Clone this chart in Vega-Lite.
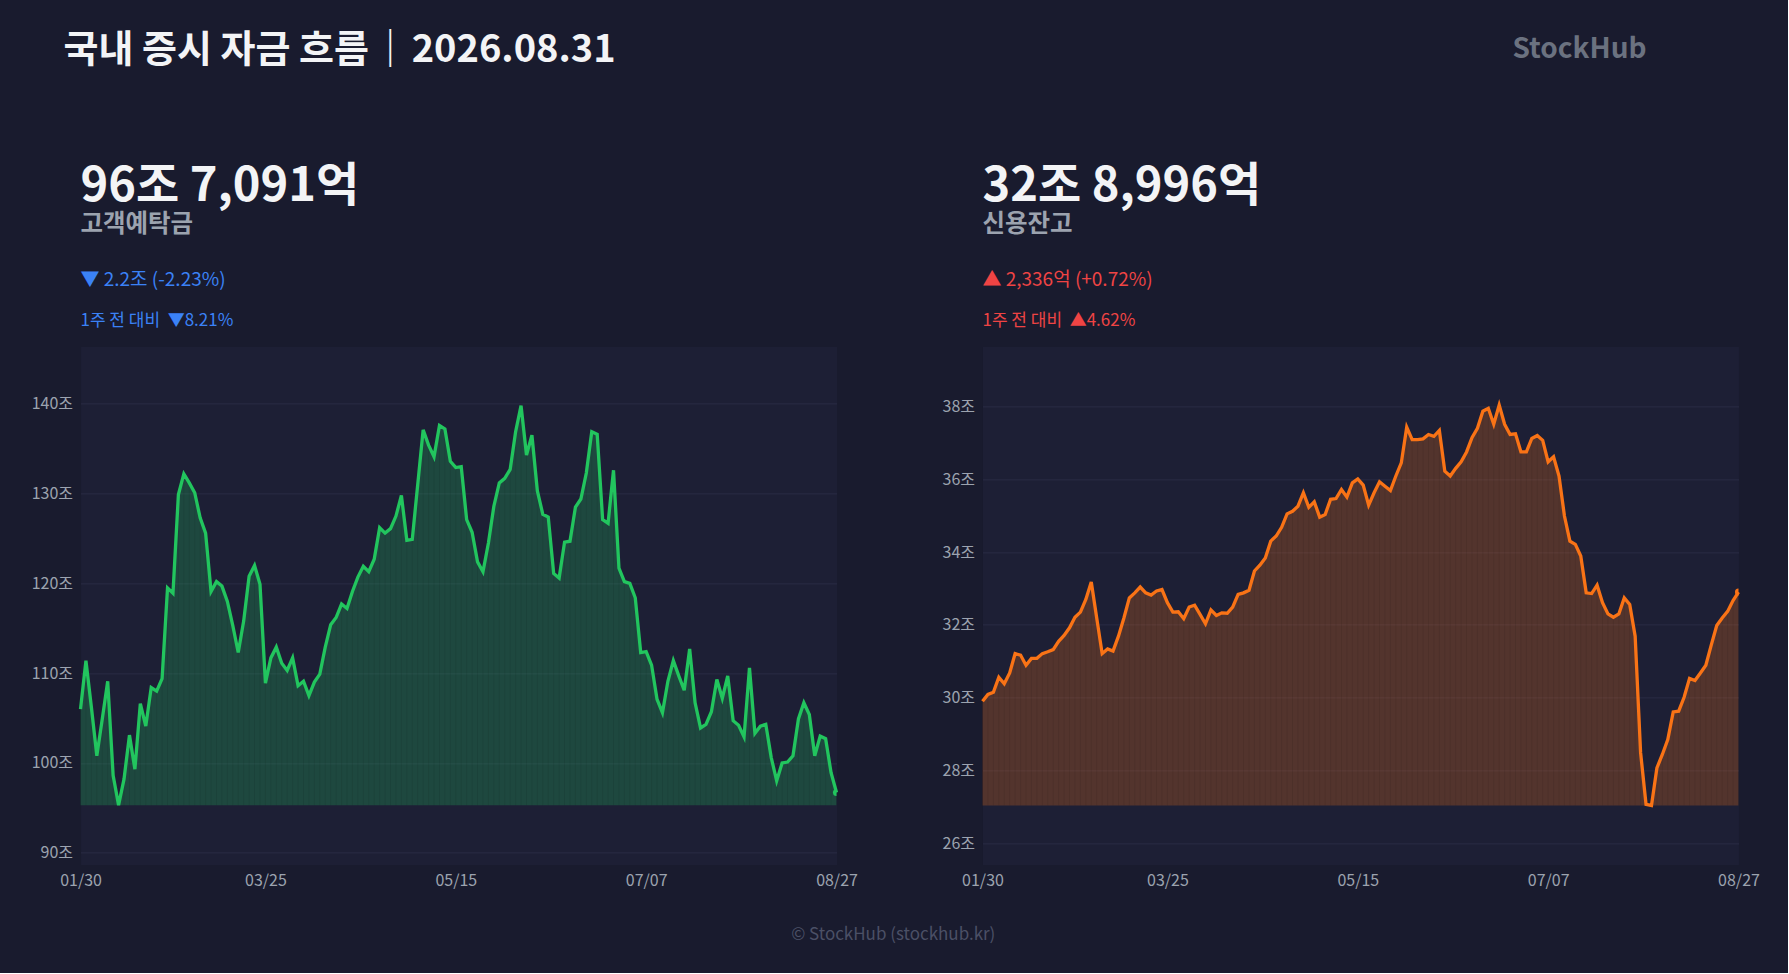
{
  "$schema": "https://vega.github.io/schema/vega-lite/v6.json",
  "background": "#191b2e",
  "padding": {"left": 30.5, "top": 32.4, "right": 27.5, "bottom": 29.5},
  "data": {
    "values": [
      {"d": "01/30", "deposit": 106.0, "credit": 29.90},
      {"d": "02/02", "deposit": 111.4, "credit": 30.09},
      {"d": "02/03", "deposit": 106.2, "credit": 30.15},
      {"d": "02/04", "deposit": 100.8, "credit": 30.56},
      {"d": "02/05", "deposit": 104.9, "credit": 30.38},
      {"d": "02/06", "deposit": 109.1, "credit": 30.68},
      {"d": "02/09", "deposit": 98.6, "credit": 31.21},
      {"d": "02/10", "deposit": 95.3, "credit": 31.17},
      {"d": "02/11", "deposit": 98.2, "credit": 30.89},
      {"d": "02/12", "deposit": 103.1, "credit": 31.08},
      {"d": "02/13", "deposit": 99.3, "credit": 31.08},
      {"d": "02/19", "deposit": 106.6, "credit": 31.21},
      {"d": "02/20", "deposit": 104.1, "credit": 31.26},
      {"d": "02/23", "deposit": 108.4, "credit": 31.32},
      {"d": "02/24", "deposit": 108.0, "credit": 31.55},
      {"d": "02/25", "deposit": 109.4, "credit": 31.71},
      {"d": "02/26", "deposit": 119.5, "credit": 31.92},
      {"d": "02/27", "deposit": 118.9, "credit": 32.21},
      {"d": "03/03", "deposit": 129.9, "credit": 32.35},
      {"d": "03/04", "deposit": 132.2, "credit": 32.70},
      {"d": "03/05", "deposit": 131.2, "credit": 33.18},
      {"d": "03/06", "deposit": 130.1, "credit": 32.19},
      {"d": "03/09", "deposit": 127.3, "credit": 31.21},
      {"d": "03/10", "deposit": 125.6, "credit": 31.34},
      {"d": "03/11", "deposit": 119.1, "credit": 31.28},
      {"d": "03/12", "deposit": 120.2, "credit": 31.69},
      {"d": "03/13", "deposit": 119.7, "credit": 32.19},
      {"d": "03/16", "deposit": 118.0, "credit": 32.74},
      {"d": "03/17", "deposit": 115.3, "credit": 32.88},
      {"d": "03/18", "deposit": 112.3, "credit": 33.04},
      {"d": "03/19", "deposit": 115.8, "credit": 32.88},
      {"d": "03/20", "deposit": 120.8, "credit": 32.82},
      {"d": "03/23", "deposit": 122.0, "credit": 32.93},
      {"d": "03/24", "deposit": 119.9, "credit": 32.97},
      {"d": "03/25", "deposit": 108.9, "credit": 32.61},
      {"d": "03/26", "deposit": 111.7, "credit": 32.35},
      {"d": "03/27", "deposit": 112.9, "credit": 32.36},
      {"d": "03/30", "deposit": 111.1, "credit": 32.17},
      {"d": "03/31", "deposit": 110.3, "credit": 32.49},
      {"d": "04/01", "deposit": 111.7, "credit": 32.54},
      {"d": "04/02", "deposit": 108.6, "credit": 32.29},
      {"d": "04/03", "deposit": 109.1, "credit": 32.03},
      {"d": "04/06", "deposit": 107.5, "credit": 32.41},
      {"d": "04/07", "deposit": 109.0, "credit": 32.26},
      {"d": "04/08", "deposit": 109.9, "credit": 32.33},
      {"d": "04/09", "deposit": 112.9, "credit": 32.32},
      {"d": "04/10", "deposit": 115.4, "credit": 32.49},
      {"d": "04/13", "deposit": 116.2, "credit": 32.84},
      {"d": "04/14", "deposit": 117.7, "credit": 32.88},
      {"d": "04/15", "deposit": 117.2, "credit": 32.95},
      {"d": "04/16", "deposit": 119.1, "credit": 33.48},
      {"d": "04/17", "deposit": 120.7, "credit": 33.64},
      {"d": "04/20", "deposit": 121.9, "credit": 33.84},
      {"d": "04/21", "deposit": 121.3, "credit": 34.30},
      {"d": "04/22", "deposit": 122.7, "credit": 34.44},
      {"d": "04/23", "deposit": 126.2, "credit": 34.68},
      {"d": "04/24", "deposit": 125.6, "credit": 35.05},
      {"d": "04/27", "deposit": 126.1, "credit": 35.12},
      {"d": "04/28", "deposit": 127.5, "credit": 35.26},
      {"d": "04/29", "deposit": 129.8, "credit": 35.63},
      {"d": "04/30", "deposit": 124.8, "credit": 35.23},
      {"d": "05/04", "deposit": 124.9, "credit": 35.38},
      {"d": "05/06", "deposit": 131.0, "credit": 34.96},
      {"d": "05/07", "deposit": 137.1, "credit": 35.03},
      {"d": "05/08", "deposit": 135.4, "credit": 35.45},
      {"d": "05/11", "deposit": 134.1, "credit": 35.47},
      {"d": "05/12", "deposit": 137.6, "credit": 35.72},
      {"d": "05/13", "deposit": 137.2, "credit": 35.51},
      {"d": "05/14", "deposit": 133.6, "credit": 35.90},
      {"d": "05/15", "deposit": 132.9, "credit": 36.01},
      {"d": "05/18", "deposit": 133.0, "credit": 35.84},
      {"d": "05/19", "deposit": 127.1, "credit": 35.29},
      {"d": "05/20", "deposit": 125.7, "credit": 35.63},
      {"d": "05/21", "deposit": 122.4, "credit": 35.93},
      {"d": "05/22", "deposit": 121.3, "credit": 35.81},
      {"d": "05/26", "deposit": 124.5, "credit": 35.69},
      {"d": "05/27", "deposit": 128.6, "credit": 36.09},
      {"d": "05/28", "deposit": 131.2, "credit": 36.45},
      {"d": "05/29", "deposit": 131.7, "credit": 37.43},
      {"d": "06/01", "deposit": 132.7, "credit": 37.09},
      {"d": "06/02", "deposit": 136.9, "credit": 37.09},
      {"d": "06/04", "deposit": 139.8, "credit": 37.11},
      {"d": "06/05", "deposit": 134.3, "credit": 37.23},
      {"d": "06/08", "deposit": 136.5, "credit": 37.18},
      {"d": "06/09", "deposit": 130.3, "credit": 37.34},
      {"d": "06/10", "deposit": 127.7, "credit": 36.22},
      {"d": "06/11", "deposit": 127.4, "credit": 36.09},
      {"d": "06/12", "deposit": 121.1, "credit": 36.30},
      {"d": "06/15", "deposit": 120.6, "credit": 36.48},
      {"d": "06/16", "deposit": 124.6, "credit": 36.75},
      {"d": "06/17", "deposit": 124.7, "credit": 37.14},
      {"d": "06/18", "deposit": 128.5, "credit": 37.40},
      {"d": "06/19", "deposit": 129.4, "credit": 37.87},
      {"d": "06/22", "deposit": 132.3, "credit": 37.95},
      {"d": "06/23", "deposit": 136.9, "credit": 37.51},
      {"d": "06/24", "deposit": 136.6, "credit": 38.04},
      {"d": "06/25", "deposit": 127.1, "credit": 37.51},
      {"d": "06/26", "deposit": 126.7, "credit": 37.23},
      {"d": "06/29", "deposit": 132.6, "credit": 37.25},
      {"d": "06/30", "deposit": 121.7, "credit": 36.75},
      {"d": "07/01", "deposit": 120.2, "credit": 36.75},
      {"d": "07/02", "deposit": 120.0, "credit": 37.12},
      {"d": "07/03", "deposit": 118.4, "credit": 37.20},
      {"d": "07/06", "deposit": 112.3, "credit": 37.07},
      {"d": "07/07", "deposit": 112.4, "credit": 36.48},
      {"d": "07/08", "deposit": 110.9, "credit": 36.62},
      {"d": "07/09", "deposit": 107.1, "credit": 36.09},
      {"d": "07/10", "deposit": 105.6, "credit": 34.99},
      {"d": "07/13", "deposit": 109.1, "credit": 34.30},
      {"d": "07/14", "deposit": 111.4, "credit": 34.21},
      {"d": "07/15", "deposit": 109.7, "credit": 33.89},
      {"d": "07/16", "deposit": 108.1, "credit": 32.88},
      {"d": "07/20", "deposit": 112.7, "credit": 32.86},
      {"d": "07/21", "deposit": 106.7, "credit": 33.09},
      {"d": "07/22", "deposit": 103.9, "credit": 32.61},
      {"d": "07/23", "deposit": 104.3, "credit": 32.30},
      {"d": "07/24", "deposit": 105.7, "credit": 32.21},
      {"d": "07/27", "deposit": 109.3, "credit": 32.30},
      {"d": "07/28", "deposit": 107.2, "credit": 32.74},
      {"d": "07/29", "deposit": 109.7, "credit": 32.56},
      {"d": "07/30", "deposit": 104.7, "credit": 31.69},
      {"d": "07/31", "deposit": 104.2, "credit": 28.49},
      {"d": "08/03", "deposit": 102.9, "credit": 27.07},
      {"d": "08/04", "deposit": 110.6, "credit": 27.04},
      {"d": "08/05", "deposit": 103.3, "credit": 28.07},
      {"d": "08/06", "deposit": 104.1, "credit": 28.44},
      {"d": "08/07", "deposit": 104.3, "credit": 28.85},
      {"d": "08/10", "deposit": 100.6, "credit": 29.61},
      {"d": "08/11", "deposit": 98.0, "credit": 29.63},
      {"d": "08/12", "deposit": 100.0, "credit": 30.01},
      {"d": "08/13", "deposit": 100.1, "credit": 30.53},
      {"d": "08/14", "deposit": 100.8, "credit": 30.47},
      {"d": "08/18", "deposit": 104.9, "credit": 30.68},
      {"d": "08/19", "deposit": 106.7, "credit": 30.89},
      {"d": "08/20", "deposit": 105.4, "credit": 31.45},
      {"d": "08/21", "deposit": 100.8, "credit": 31.98},
      {"d": "08/24", "deposit": 103.0, "credit": 32.19},
      {"d": "08/25", "deposit": 102.7, "credit": 32.37},
      {"d": "08/26", "deposit": 98.91, "credit": 32.67},
      {"d": "08/27", "deposit": 96.71, "credit": 32.90}
    ]
  },
  "title": {
    "text": "© StockHub (stockhub.kr)",
    "orient": "bottom",
    "anchor": "middle",
    "frame": "bounds",
    "fontSize": 17,
    "fontWeight": "normal",
    "color": "#4b5066",
    "offset": 38.5,
    "dx": -2
  },
  "spacing": 83,
  "hconcat": [
    {
      "title": {
        "text": "국내 증시 자금 흐름\u200a｜\u200a2026.08.31",
        "fontSize": 38,
        "fontWeight": "bold",
        "color": "#f3f4f6",
        "dx": -17,
        "offset": 92.5
      },
      "bounds": "flush",
      "vconcat": [
        {
          "title": {
            "text": "96조 7,091억",
            "subtitle": "고객예탁금",
            "fontSize": 47,
            "fontWeight": "bold",
            "color": "#f3f4f6",
            "subtitleFontSize": 24.5,
            "subtitleFontWeight": "bold",
            "subtitleColor": "#9ca3af",
            "subtitlePadding": 2,
            "offset": 33
          },
          "bounds": "flush",
          "vconcat": [
            {
              "width": 756,
              "height": 518,
              "title": {
                "text": "▼ 2.2조 (-2.23%)",
                "subtitle": "1주 전 대비\u00a0 ▼8.21%",
                "fontSize": 19,
                "fontWeight": "normal",
                "color": "#3b82f6",
                "subtitleFontSize": 17,
                "subtitleFontWeight": "normal",
                "subtitleColor": "#3b82f6",
                "subtitlePadding": 23.5,
                "offset": 17
              },
              "encoding": {
                "x": {
                  "field": "d",
                  "type": "ordinal",
                  "scale": {"type": "point", "padding": 0},
                  "axis": {"values": ["01/30", "03/25", "05/15", "07/07", "08/27"], "title": null}
                }
              },
              "layer": [
                {
                  "transform": [{"joinaggregate": [{"op": "min", "field": "deposit", "as": "lo"}]}],
                  "mark": {"type": "area", "color": "#22c55e", "opacity": 0.25},
                  "encoding": {
                    "y": {
                      "field": "deposit",
                      "type": "quantitative",
                      "scale": {"domain": [88.7, 146.4], "nice": false, "zero": false},
                      "axis": {"values": [90, 100, 110, 120, 130, 140], "labelExpr": "datum.value + '조'", "title": null}
                    },
                    "y2": {"field": "lo"}
                  }
                },
                {
                  "transform": [{"joinaggregate": [{"op": "min", "field": "deposit", "as": "lo"}]}],
                  "mark": {"type": "rule", "color": "#000000", "opacity": 0.08, "strokeWidth": 1},
                  "encoding": {
                    "y": {"field": "deposit", "type": "quantitative"},
                    "y2": {"field": "lo"}
                  }
                },
                {
                  "mark": {"type": "line", "color": "#22c55e", "strokeWidth": 3.3},
                  "encoding": {"y": {"field": "deposit", "type": "quantitative"}}
                },
                {
                  "transform": [{"filter": "datum.d == '08/27'"}],
                  "mark": {"type": "circle", "color": "#22c55e", "size": 50, "opacity": 1, "clip": true},
                  "encoding": {"y": {"field": "deposit", "type": "quantitative"}}
                }
              ]
            }
          ]
        }
      ]
    },
    {
      "title": {
        "text": ["", "StockHub"],
        "lineHeight": 3.4,
        "fontSize": 28,
        "fontWeight": "bold",
        "color": "#6b7280",
        "align": "right",
        "dx": 664,
        "offset": 99.1
      },
      "bounds": "flush",
      "vconcat": [
        {
          "title": {
            "text": "32조 8,996억",
            "subtitle": "신용잔고",
            "fontSize": 47,
            "fontWeight": "bold",
            "color": "#f3f4f6",
            "subtitleFontSize": 24.5,
            "subtitleFontWeight": "bold",
            "subtitleColor": "#9ca3af",
            "subtitlePadding": 2,
            "offset": 33
          },
          "bounds": "flush",
          "vconcat": [
            {
              "width": 756,
              "height": 518,
              "title": {
                "text": "▲ 2,336억 (+0.72%)",
                "subtitle": "1주 전 대비\u00a0 ▲4.62%",
                "fontSize": 19,
                "fontWeight": "normal",
                "color": "#ef4444",
                "subtitleFontSize": 17,
                "subtitleFontWeight": "normal",
                "subtitleColor": "#ef4444",
                "subtitlePadding": 23.5,
                "offset": 17
              },
              "encoding": {
                "x": {
                  "field": "d",
                  "type": "ordinal",
                  "scale": {"type": "point", "padding": 0},
                  "axis": {"values": ["01/30", "03/25", "05/15", "07/07", "08/27"], "title": null}
                }
              },
              "layer": [
                {
                  "transform": [{"joinaggregate": [{"op": "min", "field": "credit", "as": "lo"}]}],
                  "mark": {"type": "area", "color": "#f97316", "opacity": 0.25},
                  "encoding": {
                    "y": {
                      "field": "credit",
                      "type": "quantitative",
                      "scale": {"domain": [25.42, 39.65], "nice": false, "zero": false},
                      "axis": {"values": [26, 28, 30, 32, 34, 36, 38], "labelExpr": "datum.value + '조'", "title": null}
                    },
                    "y2": {"field": "lo"}
                  }
                },
                {
                  "transform": [{"joinaggregate": [{"op": "min", "field": "credit", "as": "lo"}]}],
                  "mark": {"type": "rule", "color": "#000000", "opacity": 0.08, "strokeWidth": 1},
                  "encoding": {
                    "y": {"field": "credit", "type": "quantitative"},
                    "y2": {"field": "lo"}
                  }
                },
                {
                  "mark": {"type": "line", "color": "#f97316", "strokeWidth": 3.3},
                  "encoding": {"y": {"field": "credit", "type": "quantitative"}}
                },
                {
                  "transform": [{"filter": "datum.d == '08/27'"}],
                  "mark": {"type": "circle", "color": "#f97316", "size": 50, "opacity": 1, "clip": true},
                  "encoding": {"y": {"field": "credit", "type": "quantitative"}}
                }
              ]
            }
          ]
        }
      ]
    }
  ],
  "config": {
    "font": "Noto Sans CJK KR",
    "view": {"fill": "#1d1f35", "stroke": "transparent"},
    "axis": {
      "labelFont": "Noto Sans CJK KR",
      "labelColor": "#9ca3af",
      "labelFontSize": 16,
      "labelPadding": 8,
      "domain": false,
      "ticks": false,
      "gridColor": "#2a2c44",
      "gridWidth": 1
    },
    "axisX": {"grid": false, "labelAngle": 0, "labelFontSize": 16, "labelFlush": false},
    "axisY": {"grid": true},
    "title": {
      "font": "Noto Sans CJK KR",
      "subtitleFont": "Noto Sans CJK KR",
      "anchor": "start",
      "frame": "group",
      "baseline": "top"
    }
  }
}
